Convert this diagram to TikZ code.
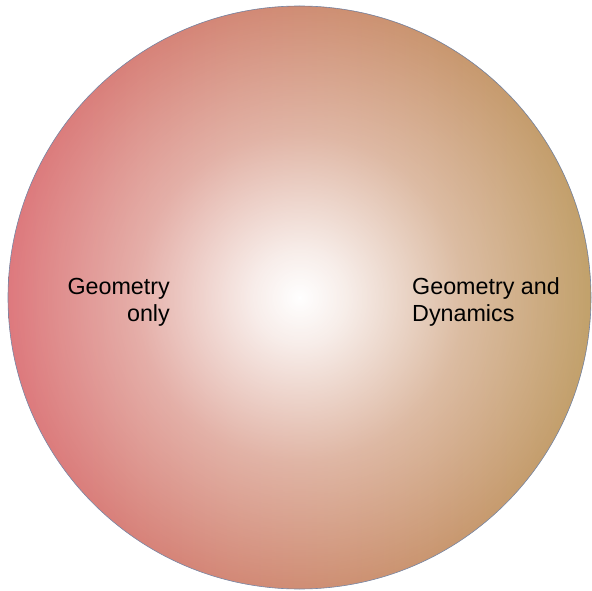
\documentclass[tikz,border=0pt]{standalone}
\usepackage{fontspec}
\setmainfont{Liberation Sans}
\usetikzlibrary{fadings}
\definecolor{leftred}{RGB}{212,82,88}
\definecolor{rightbrown}{RGB}{176,134,64}
\definecolor{rimline}{RGB}{120,135,165}
\pgfdeclareradialshading{centerglow}{\pgfpointorigin}{%
  color(0bp)=(pgftransparent!0);
  color(4bp)=(pgftransparent!12);
  color(14bp)=(pgftransparent!50);
  color(26bp)=(pgftransparent!80);
  color(40bp)=(pgftransparent!97);
  color(48bp)=(pgftransparent!100);
  color(50bp)=(pgftransparent!100)}
\pgfdeclarefading{glowfade}{\pgfuseshading{centerglow}}
\tikzset{
  lbl/.style={font=\fontsize{23.3}{26.5}\selectfont, inner sep=0pt, text=black}
}
\begin{document}
\begin{tikzpicture}[x=1pt,y=1pt]
\useasboundingbox (0,0) rectangle (592,590);
\coordinate (c) at (299.5,292.5);
\shade[left color=leftred, right color=rightbrown] (c) circle (291.5);
\fill[white, path fading=glowfade, fit fading=true] (c) circle (291.5);
\draw[rimline, line width=0.6pt] (c) circle (291.5);
\node[lbl, align=right, anchor=base east] (geo) at (170,269) {Geometry\\only};
\node[lbl, align=left, anchor=base west] (dyn) at (412,269) {Geometry and\\Dynamics};
\end{tikzpicture}
\end{document}
